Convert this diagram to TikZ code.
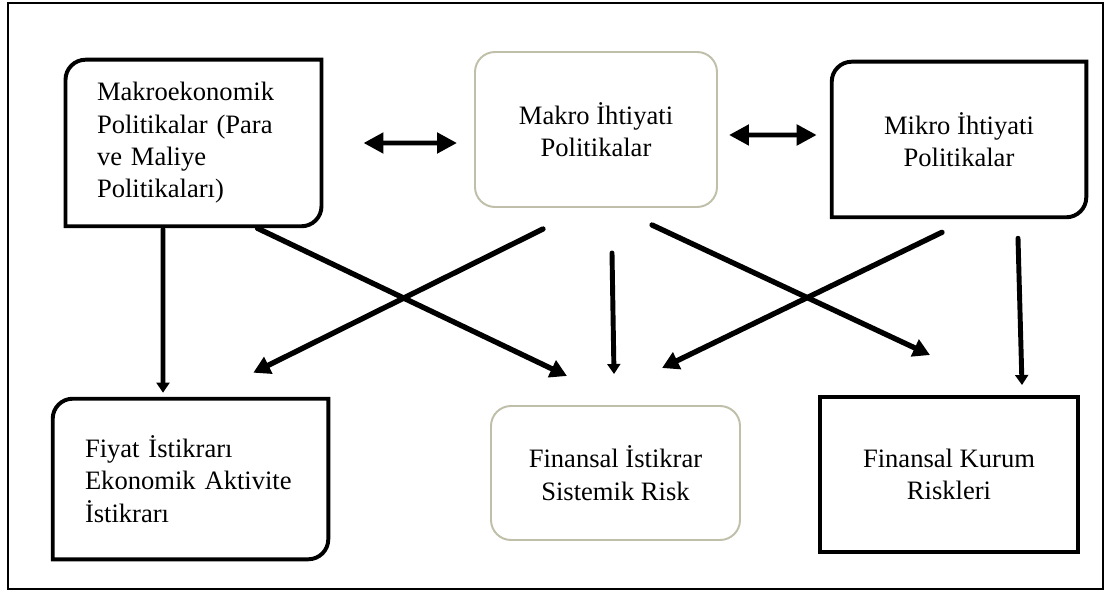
\documentclass[tikz,border=0pt]{standalone}
\usepackage{fontspec}
\setmainfont{Liberation Serif}
\usetikzlibrary{arrows.meta}
\definecolor{softline}{RGB}{192,192,170}

\begin{document}
\begin{tikzpicture}[
        font=\fontsize{18.9}{23}\selectfont,
        plainbox/.style={shape=rectangle,inner sep=0pt,align=center},
        softbox/.style={plainbox,draw=softline,line width=1.4pt,rounded corners=0.5cm},
        hardbox/.style={plainbox,draw=black,line width=2.8pt},
        leftbox/.style={shape=rectangle,inner xsep=0.78cm,inner ysep=0pt,align=left},
        outline/.style={draw=black,line width=2.8pt},
        twoway/.style={line width=3.5pt,{Triangle[length=0.5cm,width=0.5cm]}-{Triangle[length=0.5cm,width=0.5cm]}},
        slantarrow/.style={line width=3.8pt,line cap=round,-{Triangle[length=0.42cm,width=0.45cm]}},
        droparrow/.style={line width=3.5pt,line cap=round,-{Triangle[length=0.25cm,width=0.32cm]}}
    ]
        \useasboundingbox (0,0) rectangle (27.625,14.775);
        \draw[line width=1.2pt] (0.2,0.05) rectangle (27.575,14.7);

        % policy boxes
        \node[leftbox,text width=4.825cm,minimum height=4.15cm] (makro) at (4.8375,11.2) {Makroekonomik\\Politikalar (Para\\ve Maliye\\Politikaları)};
        \node[softbox,minimum width=6.05cm,minimum height=3.875cm] (ihtiyat) at (14.9,11.5375) {Makro İhtiyati\\Politikalar};
        \node[plainbox,minimum width=6.35cm,minimum height=3.875cm] (mikro) at (23.975,11.2875) {Mikro İhtiyati\\Politikalar};

        % target boxes
        \node[leftbox,inner xsep=0.8cm,text width=5.275cm,minimum height=4cm] (fiyat) at (4.7625,2.8) {Fiyat İstikrarı\\Ekonomik Aktivite\\İstikrarı};
        \node[softbox,minimum width=6.225cm,minimum height=3.35cm] (finansal) at (15.3875,2.95) {Finansal İstikrar\\Sistemik Risk};
        \node[hardbox,minimum width=6.45cm,minimum height=3.875cm] (kurum) at (23.725,2.9125) {Finansal Kurum\\Riskleri};

        % two corners rounded
        \draw[outline] (makro.north east) -- ([xshift=0.5cm]makro.north west) arc[start angle=90,end angle=180,radius=0.5cm] -- (makro.south west) -- ([xshift=-0.5cm]makro.south east) arc[start angle=270,end angle=360,radius=0.5cm] -- cycle;
        \draw[outline] (mikro.north east) -- ([xshift=0.5cm]mikro.north west) arc[start angle=90,end angle=180,radius=0.5cm] -- (mikro.south west) -- ([xshift=-0.5cm]mikro.south east) arc[start angle=270,end angle=360,radius=0.5cm] -- cycle;
        \draw[outline] (fiyat.north east) -- ([xshift=0.5cm]fiyat.north west) arc[start angle=90,end angle=180,radius=0.5cm] -- (fiyat.south west) -- ([xshift=-0.5cm]fiyat.south east) arc[start angle=270,end angle=360,radius=0.5cm] -- cycle;

        \draw[twoway] ([xshift=1.05cm]makro.east) -- ([shift={(-0.425,-0.3375)}]ihtiyat.west);
        \draw[twoway] ([shift={(0.275,-0.1375)}]ihtiyat.east) -- ([shift={(-0.375,0.1125)}]mikro.west);

        \draw[droparrow] ([shift={(-0.7625,-0.075)}]makro.south) -- ([shift={(-0.6875,0.15)}]fiyat.north);
        \draw[slantarrow] ([shift={(-1.6,-0.05)}]makro.south east) -- ([shift={(-1.2125,0.725)}]finansal.north);
        \draw[slantarrow] ([shift={(-1.325,-0.525)}]ihtiyat.south) -- ([shift={(-1.875,0.65)}]fiyat.north east);
        \draw[droparrow] ([shift={(0.4,-1.125)}]ihtiyat.south) -- ([shift={(-0.0375,0.775)}]finansal.north);
        \draw[slantarrow] ([shift={(1.4,-0.425)}]ihtiyat.south) -- ([shift={(-0.475,1.0)}]kurum.north);
        \draw[slantarrow] ([shift={(-0.425,-0.375)}]mikro.south) -- ([shift={(1.1625,0.925)}]finansal.north);
        \draw[droparrow] ([shift={(1.475,-0.525)}]mikro.south) -- ([shift={(1.825,0.25)}]kurum.north);
    \end{tikzpicture}
\end{document}
